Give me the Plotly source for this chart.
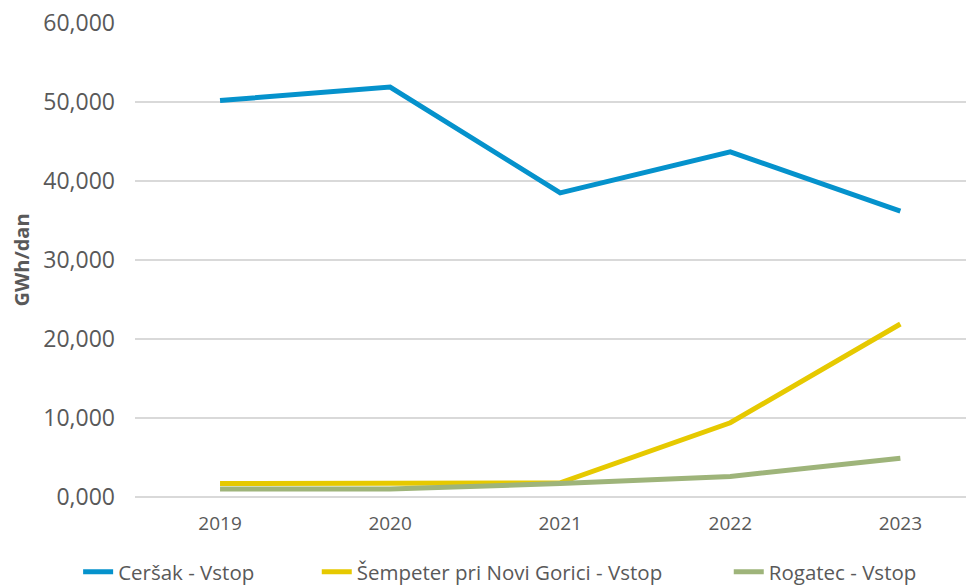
import plotly.graph_objects as go

years = ["2019", "2020", "2021", "2022", "2023"]
cersak = [50.2, 51.9, 38.5, 43.7, 36.2]
sempeter = [1.7, 1.7, 1.8, 9.4, 21.9]
rogatec = [1.0, 1.0, 1.7, 2.6, 4.9]

names = ["Ceršak - Vstop", "Šempeter pri Novi Gorici - Vstop", "Rogatec - Vstop"]
colors = ["#0592CC", "#E6C900", "#9EB47A"]
legend_ids = ["legend", "legend2", "legend3"]
legend_x = [0.072, 0.317, 0.740]

grey = "#595959"
fig = go.Figure()
for name, vals, col, lg in zip(names, [cersak, sempeter, rogatec], colors, legend_ids):
    fig.add_trace(go.Scatter(x=years, y=vals, name=name, mode="lines", legend=lg,
                             line=dict(color=col, width=5), cliponaxis=False))

# one legend per series so the entries can be spaced like the original
legends = {}
for lg, lx in zip(legend_ids, legend_x):
    legends[lg] = dict(orientation="h", xref="container", x=lx, xanchor="left",
                       yref="container", y=21 / 585, yanchor="middle",
                       font=dict(size=20.5, color=grey), itemwidth=30,
                       bgcolor="rgba(0,0,0,0)")

fig.update_layout(
    width=974, height=585,
    margin=dict(l=127, r=0, t=15, b=96),
    paper_bgcolor="white", plot_bgcolor="white",
    font=dict(family="Open Sans", color=grey),
    separators=",.",
    showlegend=True,
    **legends,
)
fig.update_xaxes(type="category", range=[-0.5, 4.48], showgrid=False,
                 showline=False, tickfont=dict(size=19, color=grey),
                 ticks="", ticklabelstandoff=13, automargin=False)
fig.update_yaxes(range=[0, 60.01], tickvals=[0, 10, 20, 30, 40, 50, 60],
                 tickformat=".3f", ticklabeloverflow="allow",
                 gridcolor="#D9D9D9", gridwidth=1.5, automargin=False,
                 zeroline=True, zerolinecolor="#D9D9D9", zerolinewidth=1.5,
                 tickfont=dict(size=23, color=grey), ticklabelstandoff=19,
                 title=dict(text="<b>GWh/dan</b>", font=dict(size=20, color=grey),
                            standoff=10))

fig.write_html("out.html")
